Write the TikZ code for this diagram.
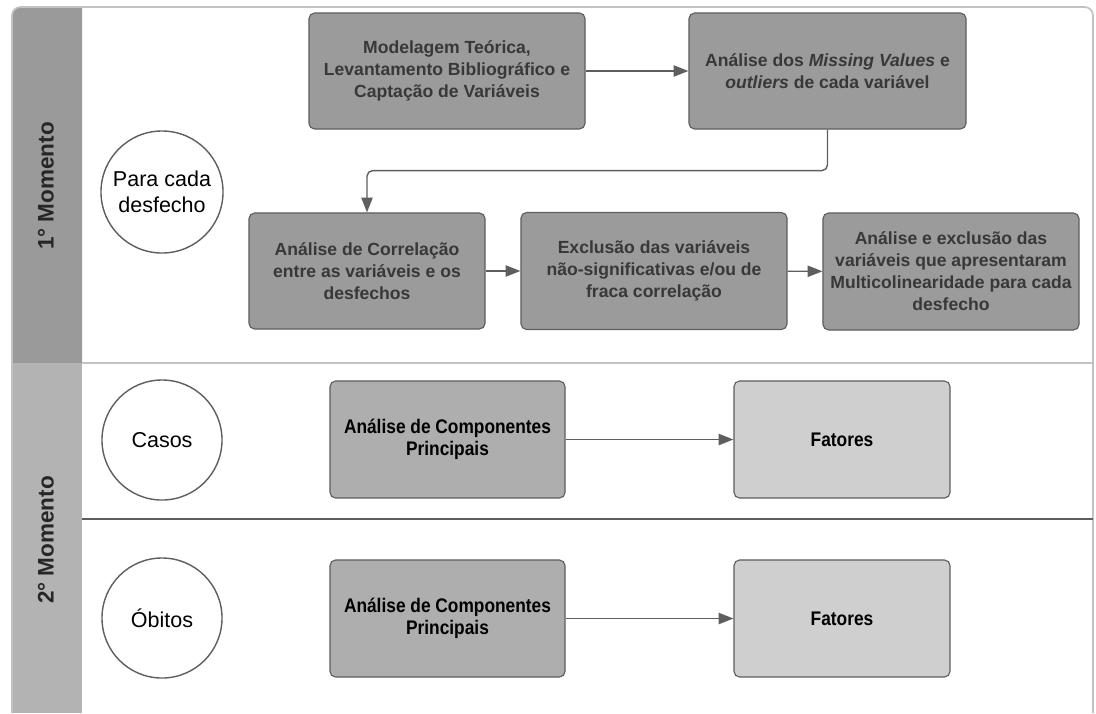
\documentclass[tikz,border=0pt]{standalone}
\usepackage{fontspec}
\setmainfont{Liberation Sans}
\newfontfamily\estreita[FakeStretch=0.88]{Liberation Sans}
\usetikzlibrary{arrows.meta,positioning}

\definecolor{bandA}{HTML}{9A9A9A}
\definecolor{bandB}{HTML}{B3B3B3}
\definecolor{boxA}{HTML}{9B9B9B}
\definecolor{boxB}{HTML}{AEAEAE}
\definecolor{boxC}{HTML}{CFCFCF}
\definecolor{edge}{HTML}{5E5E5E}
\definecolor{ink}{HTML}{383838}
\definecolor{frameline}{HTML}{C2C2C2}

\begin{document}
\begin{tikzpicture}[x=0.025cm,y=-0.025cm,
        etapa/.style={draw=edge,fill=boxA,rounded corners=4pt,line width=0.8pt,align=center,
            text=ink,font=\bfseries\fontsize{12.5}{15.6}\selectfont,inner sep=2pt},
        acp/.style={etapa,fill=boxB,text=black,minimum width=5.875cm,minimum height=2.925cm,
            font=\estreita\bfseries\fontsize{14}{15.6}\selectfont},
        fator/.style={acp,fill=boxC,minimum width=5.4cm},
        desfecho/.style={circle,draw=edge,line width=1pt,align=center,minimum size=3.05cm,
            inner sep=0pt,font=\fontsize{15.3}{18.6}\selectfont},
        momento/.style={rotate=90,font=\bfseries\fontsize{16}{19}\selectfont,text=black!85},
        seta/.style={draw=edge,line width=1pt,-{Triangle[length=10.5pt,width=8pt]}}]
        \useasboundingbox (0,0) rectangle (1096,713);

        \fill[bandA] (12,363) [rounded corners=6pt] -- (12,7) [sharp corners] -- (82,7) -- (82,363) -- cycle;
        \fill[bandB] (12,363) rectangle (82,713);
        \draw[frameline,line width=1.2pt,rounded corners=6pt] (12,713) -- (12,7) -- (1093,7) -- (1093,713);
        \draw[frameline,line width=1.2pt] (82,363) -- (1093,363);
        \draw[edge,line width=1.2pt] (82,519) -- (1093,519);

        \node[momento] (m1) at (46,186) {1° Momento};
        \node[momento] (m2) at (46,540) {2° Momento};

        \node[desfecho] (cada) at (162,192) {Para cada\\desfecho};
        \node[desfecho,minimum size=3cm] (casos) at (162,440) {Casos};
        \node[desfecho,minimum size=3cm] (obitos) at (162,618) {Óbitos};

        \node[etapa,minimum width=6.9cm,minimum height=2.9cm] (modelo) at (447,71)
            {Modelagem Teórica,\\Levantamento Bibliográfico e\\Captação de Variáveis};
        \node[etapa,minimum width=6.925cm,minimum height=2.9cm] (missing) at (827.5,71)
            {Análise dos \textit{Missing Values} e\\\textit{outliers} de cada variável};
        \node[etapa,minimum width=5.9cm,minimum height=2.9cm] (correl) at (367,271)
            {Análise de Correlação\\entre as variáveis e os\\desfechos};
        \node[etapa,minimum width=6.65cm,minimum height=2.925cm] (exclusao) at (654,271)
            {Exclusão das variáveis\\não-significativas e/ou de\\fraca correlação};
        \node[etapa,minimum width=6.4cm,minimum height=2.925cm] (multi) at (951,271.5)
            {Análise e exclusão das\\variáveis que apresentaram\\Multicolinearidade para cada\\desfecho};

        \node[acp] (acpcasos) at (447.5,439.5) {Análise de Componentes\\Principais};
        \node[fator] (fatcasos) at (842,439.5) {Fatores};
        \node[acp] (acpobitos) at (447.5,618.5) {Análise de Componentes\\Principais};
        \node[fator] (fatobitos) at (842,618.5) {Fatores};

        \draw[seta] (modelo) -- (missing);
        \draw[seta,rounded corners=4pt] (missing.south) -- ++(0,41) -| (correl.north);
        \draw[seta] (correl) -- (exclusao);
        \draw[seta] (exclusao) -- (multi);
        \draw[seta] (acpcasos) -- (fatcasos);
        \draw[seta] (acpobitos) -- (fatobitos);
    \end{tikzpicture}
\end{document}
